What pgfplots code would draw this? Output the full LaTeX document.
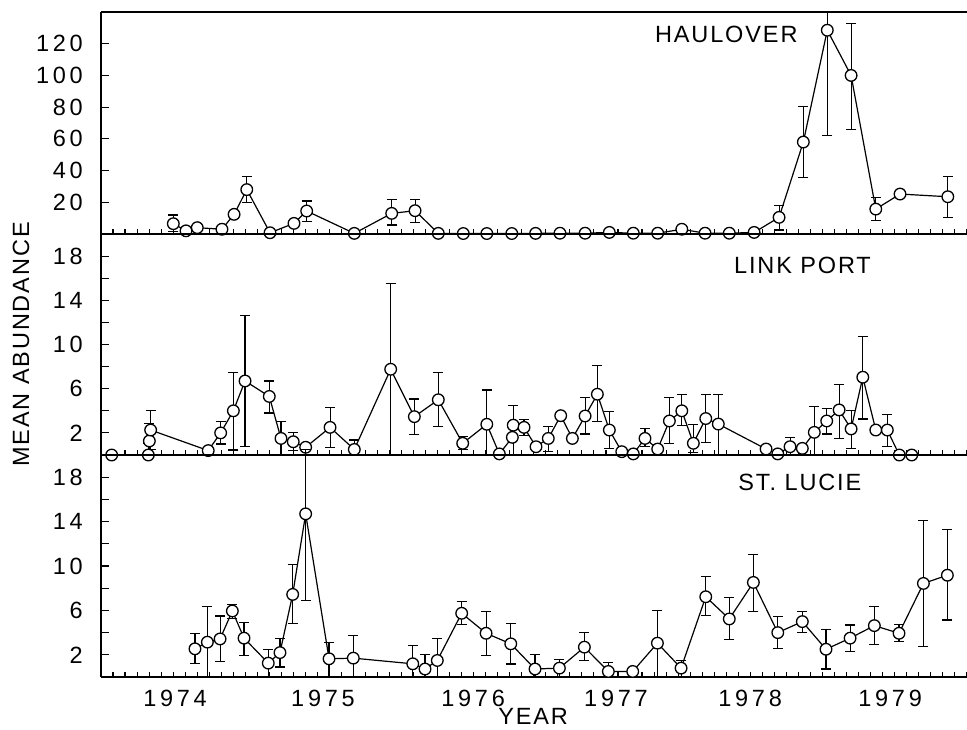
\documentclass[border=0pt]{standalone}
\usepackage{pgfplots}
\usepackage{pgfplotstable}
\pgfplotsset{compat=1.18}
\usepackage{fontspec}
\setmainfont{Liberation Sans}[LetterSpace=8]
\newfontfamily\numfont{Liberation Sans}[LetterSpace=16]

% t = decimal year, v = mean, ep/em = error up/down
\pgfplotstableread{
t v ep em
1974.001 6.5 5.5 5.0
1974.089 2.0 0 0
1974.167 4.0 0 0
1974.338 3.0 0 0
1974.422 12.4 0 0
1974.510 28.0 8.5 8.0
1974.671 0.8 0 0
1974.837 6.7 0 0
1974.925 14.5 6.3 6.8
1975.255 0.4 0 0
1975.514 13.0 8.8 7.3
1975.676 14.7 7.3 7.3
1975.837 0.4 1.5 1.5
1976.010 0.3 1.5 1.5
1976.173 0.3 1.5 1.5
1976.346 0.3 1.5 1.5
1976.511 0.4 1.5 1.5
1976.680 0.5 1.5 1.5
1976.854 0.5 1.5 1.5
1977.022 1.0 1.5 1.5
1977.188 0.5 1.5 1.5
1977.357 0.5 1.5 1.5
1977.524 3.0 1.5 1.5
1977.685 0.5 1.5 1.5
1977.853 0.5 1.5 1.5
1978.025 1.0 1.5 1.5
1978.198 10.5 7.3 8.0
1978.366 58.0 22.5 22.4
1978.532 128.5 11.5 66.2
1978.697 100.0 33.0 34.2
1978.868 15.7 7.3 7.3
1979.036 25.2 0 0
1979.367 23.5 13.0 13.2
}\haulover

\pgfplotstableread{
t v ep em
1973.574 0 0 0
1973.828 0 1.06 0
1973.835 1.27 1.6 1.27
1973.844 2.26 1.75 1.75
1974.243 0.4 0 0
1974.329 2.0 1.0 1.0
1974.417 4.0 3.5 3.55
1974.498 6.7 5.9 5.9
1974.666 5.3 1.4 1.5
1974.747 1.5 1.5 1.5
1974.832 1.2 0.85 0.8
1974.918 0.7 0 0
1975.087 2.5 1.8 1.8
1975.255 0.5 0.86 0.5
1975.507 7.76 7.74 7.76
1975.671 3.47 1.6 1.6
1975.837 5.0 2.45 2.45
1976.006 1.06 0.6 0.6
1976.173 2.78 3.1 2.78
1976.260 0.1 0 0
1976.350 1.6 0 0
1976.356 2.7 1.8 2.7
1976.431 2.5 0.7 0.7
1976.514 0.75 0.3 0.3
1976.599 1.5 1.06 1.2
1976.685 3.56 0 0
1976.766 1.5 0 0
1976.854 3.53 1.67 1.63
1976.939 5.5 2.56 2.5
1977.022 2.26 1.64 1.66
1977.108 0.3 0 0
1977.188 0.1 0 0
1977.269 1.5 0.86 0.75
1977.357 0.54 0 0
1977.438 3.08 2.12 2.02
1977.524 4.0 1.5 1.3
1977.604 1.06 1.74 0.8
1977.690 3.3 2.2 2.15
1977.777 2.8 2.7 2.8
1978.108 0.54 0 0
1978.189 0.1 0 0
1978.274 0.75 0.85 0.75
1978.359 0.6 0 0
1978.442 2.05 2.35 2.05
1978.528 3.08 1.12 1.18
1978.614 4.08 2.32 2.58
1978.697 2.36 1.64 1.76
1978.778 7.04 3.66 3.78
1978.868 2.26 0 0
1978.948 2.26 1.44 1.51
1979.031 0 0 0
1979.117 0 0 0
}\linkport

\pgfplotstableread{
t v ep em
1974.151 2.54 1.41 1.29
1974.237 3.14 3.19 3.14
1974.325 3.43 2.07 2.03
1974.410 5.95 0.62 0.65
1974.491 3.5 1.43 1.56
1974.659 1.25 1.25 1.25
1974.740 2.2 1.3 1.3
1974.828 7.44 2.66 2.64
1974.918 14.7 5.8 7.77
1975.080 1.64 1.46 1.64
1975.248 1.7 2.03 1.7
1975.660 1.19 1.64 1.19
1975.745 0.72 1.28 0.72
1975.830 1.49 2.0 1.49
1975.999 5.74 1.06 1.04
1976.168 3.94 2.0 2.0
1976.339 2.99 1.85 1.82
1976.507 0.72 1.3 0.72
1976.676 0.8 0.75 0.8
1976.849 2.69 1.34 1.2
1977.015 0.5 0.84 0.5
1977.184 0.5 0 0
1977.355 3.05 2.98 3.05
1977.519 0.8 0.69 0.8
1977.690 7.23 1.79 1.7
1977.853 5.23 1.91 1.88
1978.020 8.52 2.54 2.62
1978.189 4.0 1.43 1.4
1978.359 4.99 0.91 0.96
1978.523 2.5 1.74 1.78
1978.690 3.5 1.19 1.2
1978.858 4.63 1.7 1.67
1979.029 3.94 0.81 0.74
1979.198 8.43 5.67 5.69
1979.364 9.17 4.13 4.03
}\stlucie

\pgfplotsset{
  panel/.style={
    width=866pt, height=222pt, scale only axis,
    xmin=1973.5, xmax=1979.5, ymin=0,
    axis y line*=left,
    clip=false, axis on top,
    axis line style={line width=1.6pt},
    tick align=inside, xtick pos=left,
    major tick length=8pt, minor tick length=5pt,
    every tick/.style={black, line width=1.1pt},
    xtick={1974.013,1975.038,1976.078,1977.068,1977.997,1978.967},
    major x tick style={draw=none},
    minor xtick={1973.5,1973.58333,...,1979.5},
    xticklabels={},
    tick label style={font=\numfont},
    yticklabel style={anchor=east, inner sep=0pt, xshift=-18pt},
    xticklabel style={anchor=north, inner sep=0pt, yshift=-13pt},
    /pgf/number format/assume math mode=true,
    title style={anchor=center, inner sep=0pt, yshift=0pt},
  },
  series/.style={
    black, line width=1.2pt, mark=*, mark size=5.8pt,
    mark options={fill=white, draw=black, line width=1.3pt},
    error bars/.cd, y dir=both, y explicit,
    error bar style={line width=1.1pt},
    error mark options={rotate=90, mark size=5pt, line width=1.1pt, black},
  },
}

\begin{document}
\fontsize{23.5}{28}\selectfont
\begin{tikzpicture}
\useasboundingbox (0,0) rectangle (967pt,-729pt);

\begin{axis}[panel, at={(101pt,-12pt)}, anchor=north west,
  ymax=140, ytick={20,40,...,120},
  title={HAULOVER}, title style={at={(axis description cs:0.722,0.874)}}]
  \addplot[series] table[x=t, y=v, y error plus=ep, y error minus=em] {\haulover};
\end{axis}

\begin{axis}[panel, at={(101pt,-234pt)}, anchor=north west, height=221pt,
  ymax=20, ytick={2,4,...,18}, yticklabels={2,,6,,10,,14,,18},
  ylabel={MEAN ABUNDANCE},
  ylabel style={at={(axis description cs:-0.0924,0.5)}, anchor=center, inner sep=0pt},
  title={LINK PORT}, title style={at={(axis description cs:0.810,0.833)}}]
  \addplot[series] table[x=t, y=v, y error plus=ep, y error minus=em] {\linkport};
\end{axis}

\begin{axis}[panel, at={(101pt,-455pt)}, anchor=north west,
  ymax=20, ytick={2,4,...,18}, yticklabels={2,,6,,10,,14,,18},
  xticklabels={1974,1975,1976,1977,1978,1979},
  xlabel={YEAR},
  xlabel style={at={(axis description cs:0.499,-0.140)}, anchor=north, inner sep=0pt},
  title={ST. LUCIE}, title style={at={(axis description cs:0.807,0.849)}}]
  \addplot[series] table[x=t, y=v, y error plus=ep, y error minus=em] {\stlucie};
\end{axis}
\end{tikzpicture}
\end{document}
